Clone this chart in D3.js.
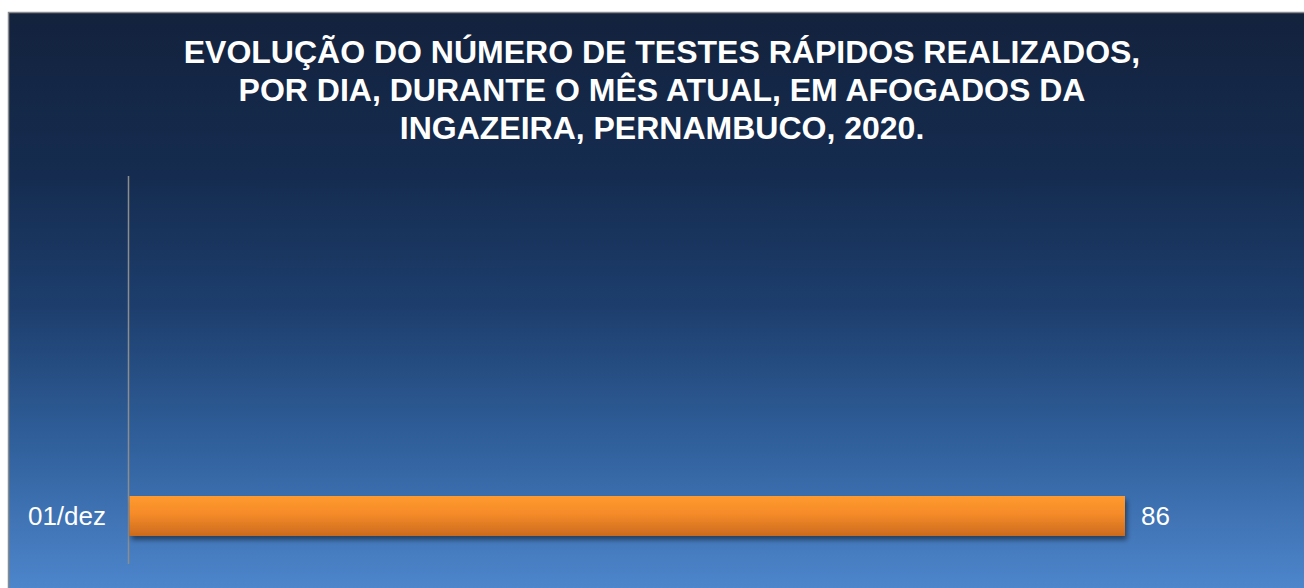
<!DOCTYPE html>
<html>
<head>
<meta charset="utf-8">
<script src="https://cdn.jsdelivr.net/npm/d3@7"></script>
<style>
  body { margin: 0; background: #ffffff; }
  svg { display: block; }
  text { font-family: Arial, "Liberation Sans", sans-serif; }
</style>
</head>
<body>
<div id="chart-area"></div>
<script>
// dados
const titleLines = [
  "EVOLUÇÃO DO NÚMERO DE TESTES RÁPIDOS REALIZADOS,",
  "POR DIA, DURANTE O MÊS ATUAL, EM AFOGADOS DA",
  "INGAZEIRA, PERNAMBUCO, 2020."
];
const days = ["01/dez"];
const tests = [86];

const width = 1304;
const height = 588;

const svg = d3.select("#chart-area")
  .append("svg")
  .attr("width", width)
  .attr("height", height);

const defs = svg.append("defs");

// fundo degradê
const bg = defs.append("linearGradient")
  .attr("id", "bg")
  .attr("x1", 0).attr("y1", 0).attr("x2", 0).attr("y2", 1);
bg.append("stop").attr("offset", "0%").attr("stop-color", "#13223d");
bg.append("stop").attr("offset", "28%").attr("stop-color", "#152c50");
bg.append("stop").attr("offset", "50%").attr("stop-color", "#1d3e6d");
bg.append("stop").attr("offset", "72%").attr("stop-color", "#2f5e99");
bg.append("stop").attr("offset", "100%").attr("stop-color", "#5089d0");

// barra laranja
const barGrad = defs.append("linearGradient")
  .attr("id", "barGrad")
  .attr("x1", 0).attr("y1", 0).attr("x2", 0).attr("y2", 1);
barGrad.append("stop").attr("offset", "0%").attr("stop-color", "#ff9a2e");
barGrad.append("stop").attr("offset", "45%").attr("stop-color", "#f58b29");
barGrad.append("stop").attr("offset", "100%").attr("stop-color", "#cc6a1e");

const shadow = defs.append("filter")
  .attr("id", "shadow")
  .attr("x", "-5%").attr("y", "-30%").attr("width", "110%").attr("height", "170%");
shadow.append("feDropShadow")
  .attr("dx", 2).attr("dy", 4)
  .attr("stdDeviation", 2.5)
  .attr("flood-color", "#000")
  .attr("flood-opacity", 0.45);

svg.append("rect")
  .attr("x", 8.5).attr("y", 12.5)
  .attr("width", width).attr("height", height)
  .attr("fill", "url(#bg)")
  .attr("stroke", "#8a8a8a")
  .attr("stroke-width", 1.5);

// título
svg.append("text")
  .attr("text-anchor", "middle")
  .attr("fill", "#ffffff")
  .attr("font-size", "32px")
  .attr("font-weight", "bold")
  .selectAll("tspan")
  .data(titleLines)
  .enter().append("tspan")
  .attr("x", 662)
  .attr("y", (d, i) => 63 + i * 38)
  .text(d => d);

// escalas
const x = d3.scaleLinear().domain([0, 86]).range([129, 1125]);
const y = d3.scaleBand().domain(days).range([476, 556]).padding(1 / 3);

// eixo vertical
svg.append("line")
  .attr("x1", 128.5).attr("x2", 128.5)
  .attr("y1", 176).attr("y2", 564)
  .attr("stroke", "#8c8c8c")
  .attr("stroke-width", 1.5);

const data = days.map((d, i) => ({ day: d, value: tests[i] }));

svg.selectAll(".bar")
  .data(data)
  .enter().append("rect")
  .attr("class", "bar")
  .attr("x", x(0) + 0.5)
  .attr("y", d => y(d.day))
  .attr("width", d => x(d.value) - x(0) - 0.5)
  .attr("height", y.bandwidth())
  .attr("fill", "url(#barGrad)")
  .attr("filter", "url(#shadow)");

// rótulos das categorias
svg.selectAll(".cat")
  .data(data)
  .enter().append("text")
  .attr("class", "cat")
  .attr("x", 106)
  .attr("y", d => y(d.day) + y.bandwidth() / 2)
  .attr("dy", "0.35em")
  .attr("text-anchor", "end")
  .attr("fill", "#ffffff")
  .attr("font-size", "26px")
  .text(d => d.day);

// valores
svg.selectAll(".val")
  .data(data)
  .enter().append("text")
  .attr("class", "val")
  .attr("x", d => x(d.value) + 16)
  .attr("y", d => y(d.day) + y.bandwidth() / 2)
  .attr("dy", "0.35em")
  .attr("fill", "#ffffff")
  .attr("font-size", "26px")
  .text(d => d.value);
</script>
</body>
</html>
